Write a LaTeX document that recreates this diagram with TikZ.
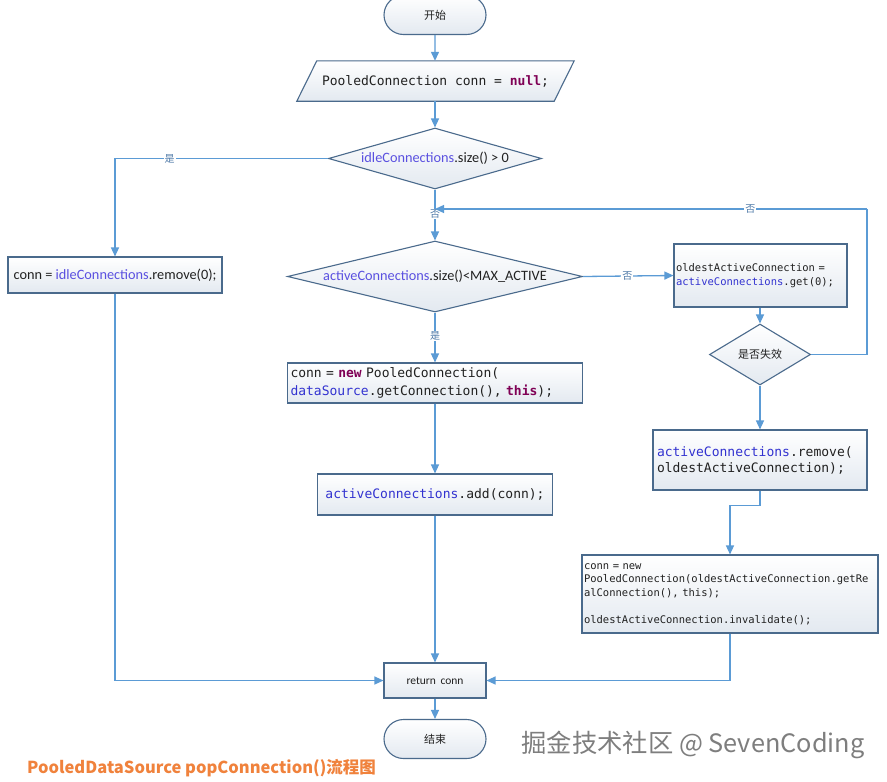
\documentclass[tikz,border=0pt]{standalone}
\usepackage{fontspec}
\setmainfont{Carlito}
\newfontfamily\cjk{Noto Sans CJK SC}
\newfontfamily\codefont{DejaVu Sans Mono}
\usetikzlibrary{shapes.geometric,shapes.misc,arrows.meta,backgrounds}
\definecolor{boxline}{HTML}{4A6A8C}
\definecolor{boxfill}{HTML}{E3E9F0}
\definecolor{arrc}{HTML}{5B9BD5}
\definecolor{labc}{HTML}{4F7AA8}
\definecolor{idc}{HTML}{3232D0}
\definecolor{sid}{HTML}{5A50E0}
\definecolor{kw}{HTML}{7F0055}
\definecolor{capc}{HTML}{F0823C}
\definecolor{wm}{HTML}{7E7E7E}
\newcommand{\idf}[1]{\textcolor{idc}{#1}}
\newcommand{\kwd}[1]{\textcolor{kw}{\bfseries #1}}
\begin{document}
\begin{tikzpicture}[x=1pt,y=-1pt,
  box/.style={draw=boxline, line width=1.1pt, top color=white, bottom color=boxfill, rectangle, inner sep=0pt, text=black!87},
  term/.style={box, rounded rectangle, minimum width=102pt, minimum height=39pt, font=\cjk\fontsize{11}{13}\selectfont},
  dec/.style={box, diamond},
  arr/.style={draw=arrc, line width=1.3pt, -{Triangle[length=9pt,width=8pt]}},
  ln/.style={draw=arrc, line width=1.3pt},
  lab/.style={fill=white, inner sep=1pt, text=labc, font=\cjk\fontsize{10}{12}\selectfont},
  code/.style={font=\codefont\fontsize{13}{17}\selectfont, align=left},
  scode/.style={font=\codefont\fontsize{10.5}{13.5}\selectfont, align=left},
  stext/.style={font=\fontsize{14.3}{16}\selectfont}
]
\useasboundingbox (0,0) rectangle (887,782);

% nodes
\node[term] (start) at (435,15) {开始};
\node[inner sep=0pt, minimum width=257pt, minimum height=40pt, code, text=black!87] (para) at (435.5,81) {PooledConnection conn = \kwd{null};};
\begin{scope}[on background layer]
\fill[white] (0,0) rectangle (887,782);
\path[draw=boxline, line width=1.1pt, top color=white, bottom color=boxfill]
  ([xshift=10pt]para.north west) -- ([xshift=10pt]para.north east) -- ([xshift=-10pt]para.south east) -- ([xshift=-10pt]para.south west) -- cycle;
\end{scope}
\node[dec, minimum width=213pt, minimum height=61pt, shape aspect=3.5, stext] (d1) at (435,158.5) {\textcolor{sid}{idleConnections}.size() > 0};
\node[box, minimum width=214pt, minimum height=36pt, stext] (lbox) at (115,275) {conn = \textcolor{sid}{idleConnections}.remove(0);};
\node[dec, minimum width=295pt, minimum height=71pt, shape aspect=4.15, stext] (d2) at (435,276.5) {\textcolor{sid}{activeConnections}.size()<MAX\_ACTIVE};
\node[box, minimum width=173pt, minimum height=63pt, text width=169pt, scode, font=\codefont\fontsize{10.5}{14}\selectfont] (obox) at (760.5,275.5) {oldestActiveConnection =\\\idf{activeConnections}.get(0);};
\node[dec, minimum width=101pt, minimum height=61pt, shape aspect=1.65, font=\cjk\fontsize{11}{13}\selectfont] (d3) at (760,354.5) {是否失效};
\node[box, minimum width=214pt, minimum height=60pt, text width=206pt, code, font=\codefont\fontsize{13}{16}\selectfont] (rbox) at (760,460) {\idf{activeConnections}.remove(\\oldestActiveConnection);};
\node[box, minimum width=296pt, minimum height=78pt, text width=292pt, scode] (bbox) at (730,594) {conn = new\\PooledConnection(oldestActiveConnection.getRe\\alConnection(), this);\\[13.5pt]oldestActiveConnection.invalidate();};
\node[box, minimum width=295pt, minimum height=40pt, text width=289pt, code, font=\codefont\fontsize{13}{18}\selectfont] (nbox) at (435,383) {conn = \kwd{new} PooledConnection(\\\idf{dataSource}.getConnection(), \kwd{this});};
\node[box, minimum width=235pt, minimum height=41pt, code] (abox) at (435,494.5) {\idf{activeConnections}.add(conn);};
\node[box, minimum width=102pt, minimum height=35pt, font=\fontsize{11.5}{13}\selectfont] (ret) at (435,680.5) {return\hspace{2pt} conn};
\node[term] (end) at (435,739) {结束};

\coordinate (loopR) at (867,209);
\coordinate (join) at (435,209);

% connectors
\draw[arr] (start) -- (start.south |- para.north);
\draw[arr] (para.south -| d1.north) -- (d1.north);
\draw[arr] (d1.west) -| node[lab, pos=0.372] {是} (lbox.north);
\draw[arr] (d1.south) -- node[lab, pos=0.48] {否} (d2.north);
\draw[arr] (d2.east) -- node[lab, pos=0.49] {否} (obox.west);
\draw[arr] (obox.south -| d3.north) -- (d3.north);
\draw[ln] (d3.east) -| (loopR);
\draw[arr] (loopR) -- node[lab, pos=0.27] {否} (join);
\draw[arr] (d3.south) -- (rbox.north);
\draw[arr] (rbox.south) -- ++(0,15) -| (bbox.north);
\draw[arr] (bbox.south) |- (ret.east);
\draw[arr] (d2.south) -- node[lab, pos=0.47] {是} (nbox.north);
\draw[arr] (nbox.south) -- (abox.north);
\draw[arr] (abox.south) -- (ret.north);
\draw[arr] (lbox.south) |- (ret.west);
\draw[arr] (ret.south) -- (end.north);

% caption and watermark
\node[anchor=west, inner sep=0pt, text=capc, font=\cjk\bfseries\fontsize{16.5}{18}\selectfont] (cap) at (27,768) {PooledDataSource popConnection()流程图};
\node[inner sep=0pt, text=wm, font=\cjk\fontsize{25.3}{30}\selectfont] (wmark) at (693,745) {掘金技术社区 @ SevenCoding};
\end{tikzpicture}
\end{document}
